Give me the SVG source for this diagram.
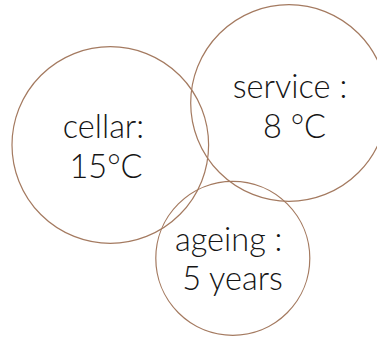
<svg xmlns="http://www.w3.org/2000/svg" width="377" height="338" viewBox="0 0 377 338">
<style>
.c{fill:none;stroke:#a47a60;stroke-width:1.2}
.t{font-family:"Lato","Noto Sans",sans-serif;font-weight:300;font-size:32.5px;fill:#151515;text-anchor:middle}
</style>
<rect width="377" height="338" fill="#ffffff"/>
<g id="cellar">
<circle class="c" cx="110.3" cy="145" r="98.3"/>
<text class="t" x="103.5" y="138">cellar:</text>
<text class="t" x="106" y="177.5">15°C</text>
</g>
<g id="service">
<circle class="c" cx="289" cy="103" r="98.3"/>
<text class="t" x="290" y="98.3">service :</text>
<text class="t" x="294.5" y="137.5">8 °C</text>
</g>
<g id="ageing">
<circle class="c" cx="232.8" cy="258.3" r="77"/>
<text class="t" x="228.7" y="250.5">ageing :</text>
<text class="t" x="232.5" y="290">5 years</text>
</g>
</svg>
